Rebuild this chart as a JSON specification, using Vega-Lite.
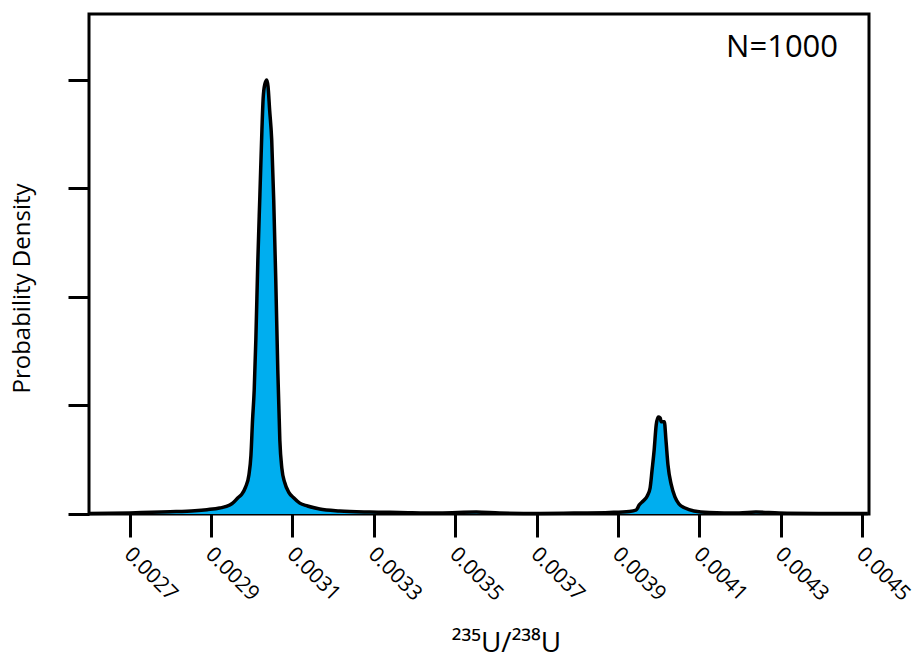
{
  "$schema": "https://vega.github.io/schema/vega-lite/v6.json",
  "width": 780,
  "height": 500,
  "autosize": "none",
  "padding": {"left": 89, "top": 14, "right": 48, "bottom": 146},
  "background": "white",
  "config": {
    "view": {"stroke": "black", "strokeWidth": 3},
    "font": "Open Sans"
  },
  "data": {
    "values": [
      {"x": 0.0026, "d": 0.005},
      {"x": 0.0027006, "d": 0.01},
      {"x": 0.002799, "d": 0.02},
      {"x": 0.00286, "d": 0.03},
      {"x": 0.00289, "d": 0.04},
      {"x": 0.002921, "d": 0.055},
      {"x": 0.002946, "d": 0.083},
      {"x": 0.002953, "d": 0.1},
      {"x": 0.002966, "d": 0.15},
      {"x": 0.002975, "d": 0.18},
      {"x": 0.002985, "d": 0.25},
      {"x": 0.002993, "d": 0.36},
      {"x": 0.002998, "d": 0.54},
      {"x": 0.003002, "d": 0.87},
      {"x": 0.003006, "d": 1.14},
      {"x": 0.00301, "d": 1.6},
      {"x": 0.003015, "d": 2.34},
      {"x": 0.00302, "d": 2.94},
      {"x": 0.003025, "d": 3.54},
      {"x": 0.003028, "d": 3.83},
      {"x": 0.003032, "d": 3.96},
      {"x": 0.003037, "d": 4.0},
      {"x": 0.00304, "d": 3.94},
      {"x": 0.003044, "d": 3.72},
      {"x": 0.003049, "d": 3.45},
      {"x": 0.003054, "d": 2.89},
      {"x": 0.003059, "d": 2.16},
      {"x": 0.003064, "d": 1.33},
      {"x": 0.003069, "d": 0.68},
      {"x": 0.003074, "d": 0.42},
      {"x": 0.003081, "d": 0.29},
      {"x": 0.003091, "d": 0.2},
      {"x": 0.003103, "d": 0.15},
      {"x": 0.003118, "d": 0.1},
      {"x": 0.003137, "d": 0.074},
      {"x": 0.003167, "d": 0.046},
      {"x": 0.003216, "d": 0.028},
      {"x": 0.00329, "d": 0.018},
      {"x": 0.003363, "d": 0.014},
      {"x": 0.003461, "d": 0.009},
      {"x": 0.003552, "d": 0.018},
      {"x": 0.003609, "d": 0.009},
      {"x": 0.003707, "d": 0.005},
      {"x": 0.003805, "d": 0.009},
      {"x": 0.003879, "d": 0.014},
      {"x": 0.003928, "d": 0.023},
      {"x": 0.003945, "d": 0.037},
      {"x": 0.003952, "d": 0.083},
      {"x": 0.003962, "d": 0.12},
      {"x": 0.003972, "d": 0.166},
      {"x": 0.003979, "d": 0.24},
      {"x": 0.003984, "d": 0.41},
      {"x": 0.003989, "d": 0.59},
      {"x": 0.003994, "d": 0.82},
      {"x": 0.003999, "d": 0.894},
      {"x": 0.004004, "d": 0.885},
      {"x": 0.004006, "d": 0.85},
      {"x": 0.004014, "d": 0.85},
      {"x": 0.004018, "d": 0.68},
      {"x": 0.004023, "d": 0.45},
      {"x": 0.004031, "d": 0.27},
      {"x": 0.00404, "d": 0.157},
      {"x": 0.00405, "d": 0.092},
      {"x": 0.004065, "d": 0.055},
      {"x": 0.004087, "d": 0.028},
      {"x": 0.004124, "d": 0.014},
      {"x": 0.004198, "d": 0.009},
      {"x": 0.004239, "d": 0.018},
      {"x": 0.004296, "d": 0.009},
      {"x": 0.004394, "d": 0.005},
      {"x": 0.004514, "d": 0.004}
    ]
  },
  "layer": [
    {
      "mark": {"type": "area", "color": "#00AEEF", "interpolate": "monotone"},
      "encoding": {
        "x": {
          "field": "x",
          "type": "quantitative",
          "scale": {"domain": [0.0026, 0.004517], "nice": false, "zero": false},
          "axis": {
            "values": [0.0027, 0.0029, 0.0031, 0.0033, 0.0035, 0.0037, 0.0039, 0.0041, 0.0043, 0.0045],
            "format": ".4f",
            "domain": false,
            "grid": false,
            "tickColor": "black",
            "tickWidth": 3,
            "tickSize": 23,
            "labelAngle": 45,
            "labelAlign": "left",
            "labelBaseline": "top",
            "labelFontSize": 21,
            "labelColor": "black",
            "labelPadding": 6,
            "labelOffset": 5,
            "title": "²³⁵U/²³⁸U",
            "titleFontSize": 28,
            "titleFontWeight": "normal",
            "titleColor": "black",
            "titleX": 417,
            "titleY": 137,
            "titleAlign": "center",
            "titleBaseline": "alphabetic"
          }
        },
        "y": {
          "field": "d",
          "type": "quantitative",
          "scale": {"domain": [0, 4.608], "nice": false},
          "axis": {
            "values": [0, 1, 2, 3, 4],
            "labels": false,
            "domain": false,
            "grid": false,
            "tickColor": "black",
            "tickWidth": 3,
            "tickSize": 21,
            "title": "Probability Density",
            "titleFontSize": 24,
            "titleFontWeight": "normal",
            "titleColor": "black",
            "titleX": -60,
            "titleY": 274,
            "titleAngle": -90,
            "titleAlign": "center",
            "titleBaseline": "alphabetic"
          }
        }
      }
    },
    {
      "mark": {"type": "line", "color": "black", "strokeWidth": 3.5, "interpolate": "monotone", "strokeJoin": "round"},
      "encoding": {
        "x": {"field": "x", "type": "quantitative"},
        "y": {"field": "d", "type": "quantitative"}
      }
    },
    {
      "data": {"values": [{"x": 0.004441, "d": 4.21, "label": "N=1000"}]},
      "mark": {"type": "text", "align": "right", "baseline": "alphabetic", "fontSize": 31, "color": "black"},
      "encoding": {
        "x": {"field": "x", "type": "quantitative"},
        "y": {"field": "d", "type": "quantitative"},
        "text": {"field": "label"}
      }
    }
  ]
}
